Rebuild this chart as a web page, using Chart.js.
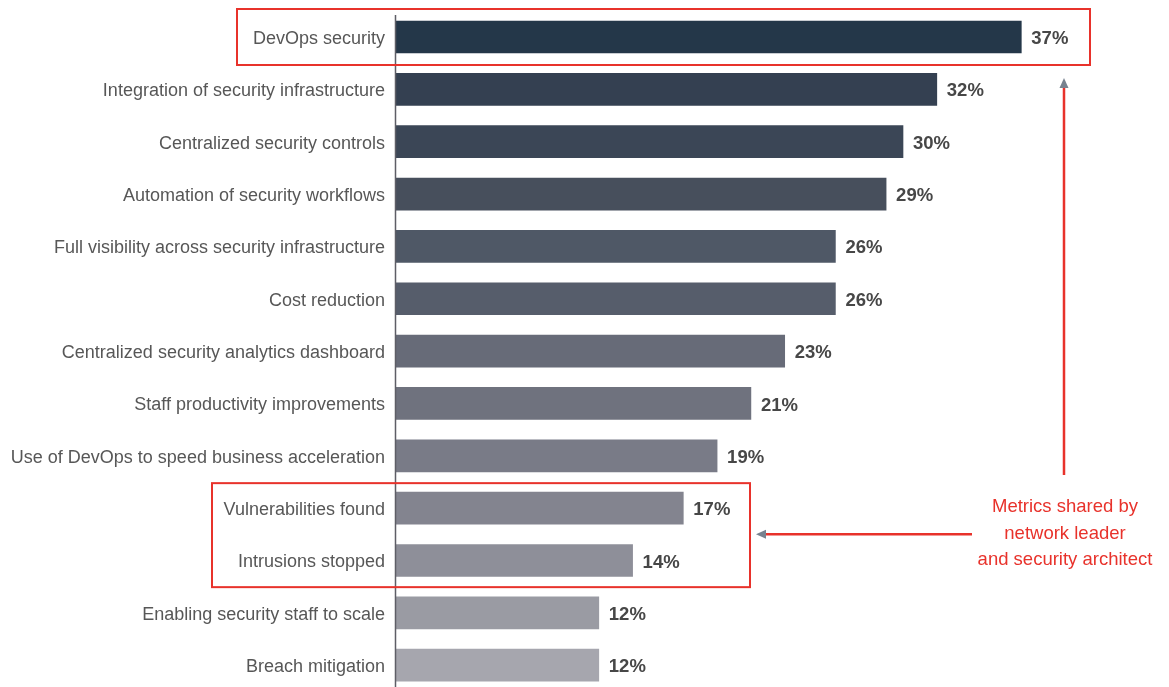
<!DOCTYPE html>
<html>
<head>
<meta charset="utf-8">
<title>Security priorities</title>
<script src="https://cdn.jsdelivr.net/npm/chart.js@4"></script>
<style>
  html, body { margin: 0; padding: 0; background: #fff; overflow: hidden; }
  #wrap { position: relative; width: 1169px; height: 687px; }
</style>
</head>
<body>
<div id="wrap"><canvas id="chart"></canvas></div>
<script>
// --- Data ---
const categories = [
  'DevOps security',
  'Integration of security infrastructure',
  'Centralized security controls',
  'Automation of security workflows',
  'Full visibility across security infrastructure',
  'Cost reduction',
  'Centralized security analytics dashboard',
  'Staff productivity improvements',
  'Use of DevOps to speed business acceleration',
  'Vulnerabilities found',
  'Intrusions stopped',
  'Enabling security staff to scale',
  'Breach mitigation'
];
const shares = [37, 32, 30, 29, 26, 26, 23, 21, 19, 17, 14, 12, 12];
const barColors = [
  '#243749', '#344051', '#3b4656', '#474f5c', '#4f5866', '#565d6b', '#676b78',
  '#6f727e', '#797b87', '#83848f', '#8e8f99', '#9a9ba3', '#a6a6ae'
];
const noteLines = ['Metrics shared by', 'network leader', 'and security architect'];

const RED = '#e8322b';
const ARROW_HEAD = '#77828f';
const FONT = '"Liberation Sans", Helvetica, Arial, sans-serif';

// value labels right of each bar
const valueLabels = {
  id: 'valueLabels',
  afterDatasetsDraw(chart) {
    const { ctx } = chart;
    const meta = chart.getDatasetMeta(0);
    ctx.save();
    ctx.font = 'bold 18.5px ' + FONT;
    ctx.fillStyle = '#474747';
    ctx.textAlign = 'left';
    ctx.textBaseline = 'middle';
    meta.data.forEach((bar, i) => {
      ctx.fillText(shares[i] + '%', bar.x + 10, bar.y + 2);
    });
    ctx.restore();
  }
};

// vertical axis line, highlight boxes and the callout arrows
const callouts = {
  id: 'callouts',
  afterDraw(chart) {
    const { ctx } = chart;
    const x = chart.scales.x, y = chart.scales.y;
    const x0 = x.getPixelForValue(0);
    const row = i => y.getPixelForValue(i);

    ctx.save();
    // axis
    ctx.strokeStyle = '#5e5e66';
    ctx.lineWidth = 1.5;
    ctx.beginPath();
    ctx.moveTo(x0 - 0.5, 15);
    ctx.lineTo(x0 - 0.5, 687);
    ctx.stroke();

    // boxes
    ctx.strokeStyle = RED;
    ctx.lineWidth = 2;
    ctx.strokeRect(237, row(0) - 28, 853, 56);
    ctx.strokeRect(212, row(9) - 25, 538, 104);

    // vertical arrow up to the DevOps box
    const ax = 1064;
    ctx.lineWidth = 2.5;
    ctx.beginPath();
    ctx.moveTo(ax, 475);
    ctx.lineTo(ax, 86);
    ctx.stroke();
    ctx.fillStyle = ARROW_HEAD;
    ctx.beginPath();
    ctx.moveTo(ax, 78);
    ctx.lineTo(ax - 4.5, 88);
    ctx.lineTo(ax + 4.5, 88);
    ctx.closePath();
    ctx.fill();

    // horizontal arrow to the second box
    const ay = (row(9) + row(10)) / 2;
    ctx.beginPath();
    ctx.moveTo(972, ay);
    ctx.lineTo(764, ay);
    ctx.stroke();
    ctx.beginPath();
    ctx.moveTo(756, ay);
    ctx.lineTo(766, ay - 4.5);
    ctx.lineTo(766, ay + 4.5);
    ctx.closePath();
    ctx.fill();

    // note text
    ctx.fillStyle = RED;
    ctx.font = '18.5px ' + FONT;
    ctx.textAlign = 'center';
    ctx.textBaseline = 'middle';
    noteLines.forEach((t, i) => ctx.fillText(t, 1065, 507 + i * 26.5));
    ctx.restore();
  }
};

new Chart(document.getElementById('chart'), {
  type: 'bar',
  data: {
    labels: categories,
    datasets: [{
      data: shares,
      backgroundColor: barColors,
      barThickness: 32,
      clip: false
    }]
  },
  options: {
    indexAxis: 'y',
    responsive: true,
    maintainAspectRatio: false,
    animation: false,
    layout: { padding: { top: 37, bottom: 20, right: 97, left: 0 } },
    scales: {
      x: {
        min: 0,
        max: 40,
        display: false
      },
      y: {
        offset: false,
        grid: { display: false, drawTicks: false },
        border: { display: false },
        ticks: {
          color: '#575757',
          padding: 11,
          labelOffset: 2,
          font: { family: FONT, size: 18 }
        },
        afterFit(scale) { scale.width = 396; }
      }
    },
    plugins: {
      legend: { display: false },
      tooltip: { enabled: false }
    }
  },
  plugins: [valueLabels, callouts]
});
</script>
</body>
</html>
